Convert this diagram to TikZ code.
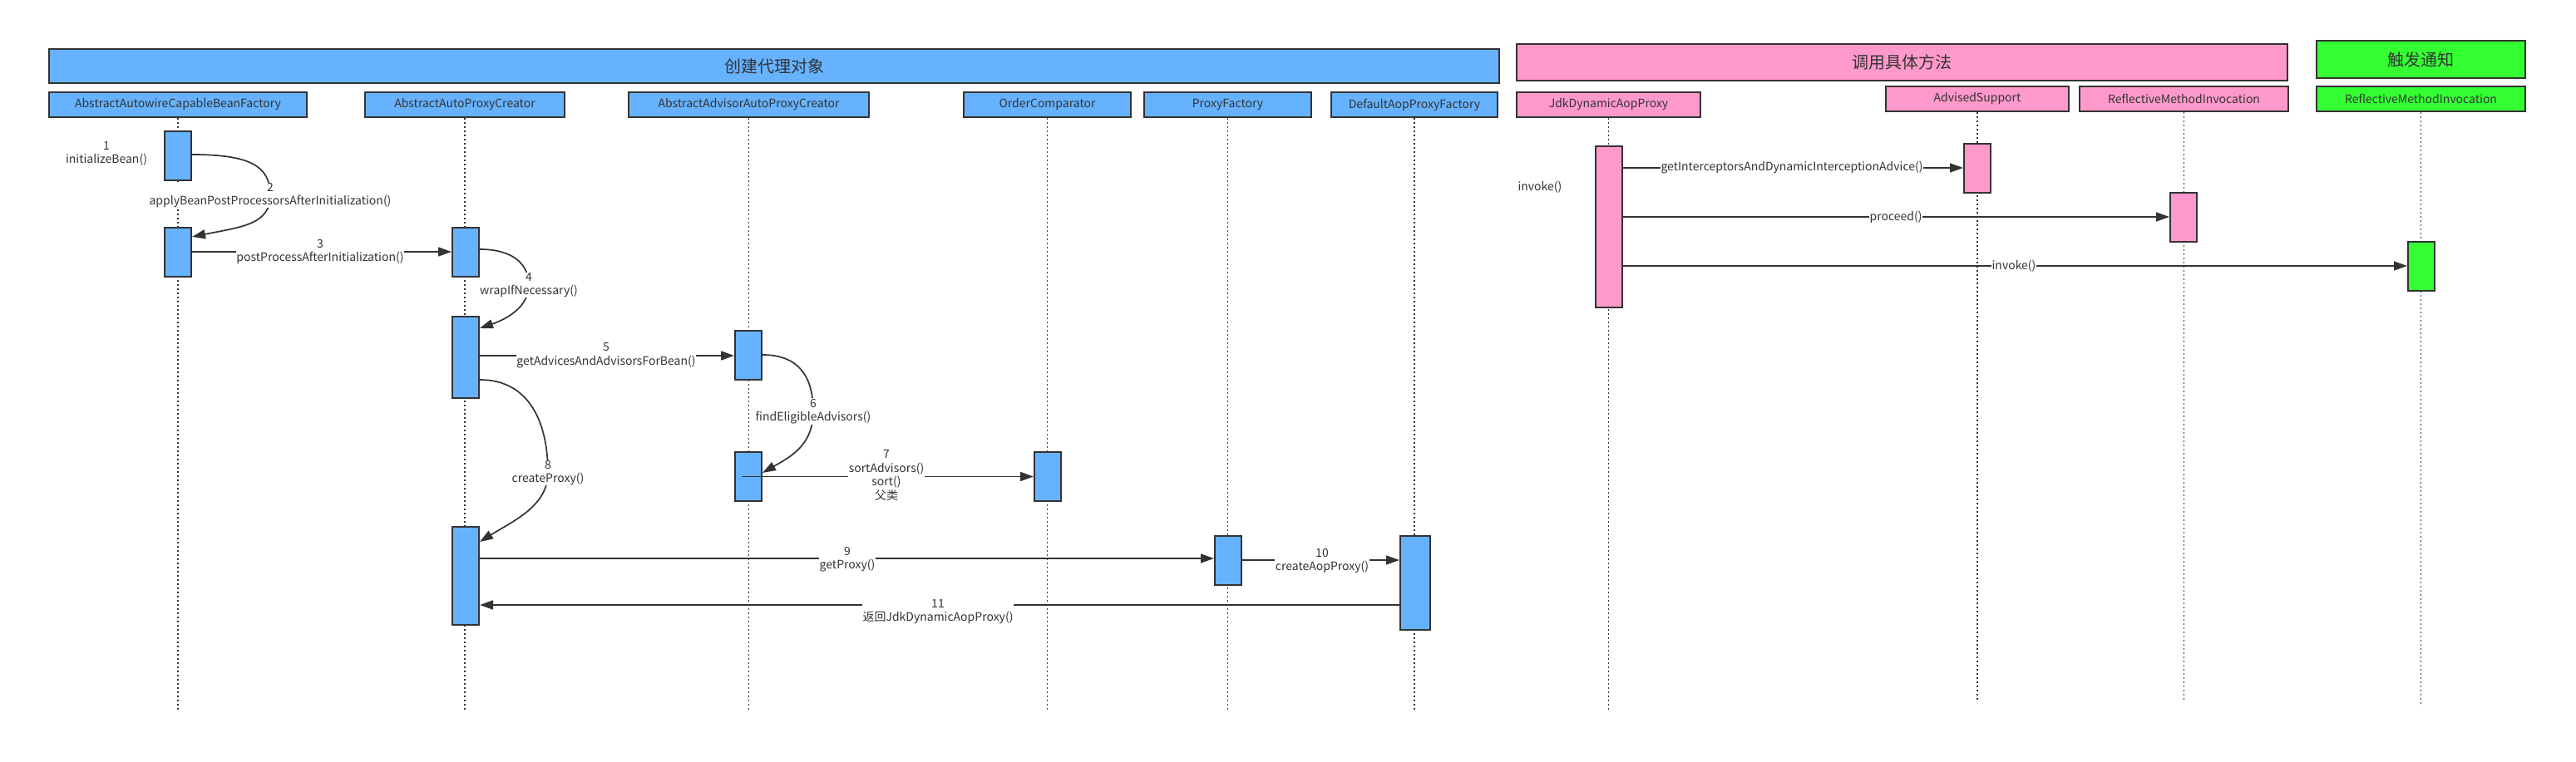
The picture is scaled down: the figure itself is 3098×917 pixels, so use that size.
\documentclass[tikz,border=0pt]{standalone}
\usepackage{fontspec}
\setmainfont{Noto Sans CJK SC}
\usetikzlibrary{arrows.meta}
\definecolor{cblue}{HTML}{66B2FF}
\definecolor{cpink}{HTML}{FF99CC}
\definecolor{cgreen}{HTML}{33FF33}
\definecolor{cline}{HTML}{333333}
\begin{document}
\begin{tikzpicture}[x=1pt,y=-1pt,
  every node/.style={text=cline},
  banner/.style={draw=cline, line width=2pt, inner sep=0pt, anchor=north west, font=\fontsize{20}{24}\selectfont},
  hdr/.style={draw=cline, line width=2pt, inner sep=0pt, anchor=north west, minimum height=30pt, font=\fontsize{14}{17}\selectfont},
  act/.style={draw=cline, line width=2pt, inner sep=0pt, anchor=north west, minimum width=32pt},
  life/.style={draw=cline, line width=1.4pt, dash pattern=on 2pt off 3pt},
  msg/.style={draw=cline, line width=1.7pt, -{Triangle[length=16pt,width=11pt]}},
  lbl/.style={fill=white, inner sep=0.5pt, align=center, font=\fontsize{14}{16.5}\selectfont},
  tlbl/.style={align=center, font=\fontsize{14}{16.5}\selectfont}]
\useasboundingbox (0,0) rectangle (3098,917);
% banners
\node[banner, fill=cblue, minimum width=1744pt, minimum height=41pt] (bn1) at (58,58) {创建代理对象};
\node[banner, fill=cpink, minimum width=927pt, minimum height=44pt] (bn2) at (1823,52) {调用具体方法};
\node[banner, fill=cgreen, minimum width=251pt, minimum height=45pt] (bn3) at (2785,48) {触发通知};
% headers
\node[hdr, fill=cblue, minimum width=310pt] (h1) at (58,110) {AbstractAutowireCapableBeanFactory};
\node[hdr, fill=cblue, minimum width=240pt] (h2) at (438,110) {AbstractAutoProxyCreator};
\node[hdr, fill=cblue, minimum width=289pt] (h3) at (755,110) {AbstractAdvisorAutoProxyCreator};
\node[hdr, fill=cblue, minimum width=201pt] (h4) at (1158,110) {OrderComparator};
\node[hdr, fill=cblue, minimum width=201pt] (h5) at (1375,110) {ProxyFactory};
\node[hdr, fill=cblue, minimum width=200pt] (h6) at (1600,110) {DefaultAopProxyFactory};
\node[hdr, fill=cpink, minimum width=221pt] (h7) at (1823,110) {JdkDynamicAopProxy};
\node[hdr, fill=cpink, minimum width=220pt] (h8) at (2267,103) {AdvisedSupport};
\node[hdr, fill=cpink, minimum width=251pt] (h9) at (2500,103) {ReflectiveMethodInvocation};
\node[hdr, fill=cgreen, minimum width=251pt] (h10) at (2785,103) {ReflectiveMethodInvocation};
% lifeline ends
\coordinate (e1) at (213,855);
\coordinate (e2) at (559,855);
\coordinate (e3) at (899,855);
\coordinate (e4) at (1259,855);
\coordinate (e5) at (1476,855);
\coordinate (e6) at (1701,855);
\coordinate (e7) at (1934,855);
\coordinate (e8) at (2377,845);
\coordinate (e9) at (2625,845);
\coordinate (e10) at (2911,850);
\foreach \i in {1,...,10} {\draw[life] (h\i.south) -- (h\i.south |- e\i);}
% activations
\node[act, fill=cblue, minimum height=59pt] (b1) at (197,157) {};
\node[act, fill=cblue, minimum height=59pt] (b2) at (197,273) {};
\node[act, fill=cblue, minimum height=59pt] (c1) at (543,273) {};
\node[act, fill=cblue, minimum height=98pt] (c2) at (543,380) {};
\node[act, fill=cblue, minimum height=118pt] (c3) at (543,633) {};
\node[act, fill=cblue, minimum height=59pt] (d1) at (883,397) {};
\node[act, fill=cblue, minimum height=59pt] (d2) at (883,543) {};
\node[act, fill=cblue, minimum height=59pt] (o1) at (1243,543) {};
\node[act, fill=cblue, minimum height=59pt] (p1) at (1460,644) {};
\node[act, fill=cblue, minimum height=113pt, minimum width=36pt] (g1) at (1683,644) {};
\node[act, fill=cpink, minimum height=194pt] (j1) at (1918,175) {};
\node[act, fill=cpink, minimum height=59pt] (k1) at (2361,172) {};
\node[act, fill=cpink, minimum height=59pt] (m1) at (2609,231) {};
\node[act, fill=cgreen, minimum height=59pt] (n1) at (2895,290) {};
% message 1
\node[tlbl] (l1) at (128,185) {1\\initializeBean()};
% message 2 (self)
\coordinate (w2) at (325,235);
\draw[msg] (b1.east |- 0,186) .. controls +(70,0) and +(0,-35) .. (w2) .. controls +(0,35) and +(60,-12) .. (b2.east |- 0,285);
\node[lbl] (l2) at (w2) {2\\applyBeanPostProcessorsAfterInitialization()};
% message 3
\draw[msg] (b2.east |- 0,303) -- (c1.west |- 0,303);
\node[lbl] (l3) at (385,303) {3\\postProcessAfterInitialization()};
% message 4
\coordinate (w4) at (636,343);
\draw[msg] (c1.east |- 0,300) .. controls +(40,0) and +(0,-25) .. (w4) .. controls +(0,25) and +(35,-12) .. (c2.east |- 0,395);
\node[lbl] (l4) at (w4) {4\\wrapIfNecessary()};
% message 5
\draw[msg] (c2.east |- 0,428) -- (d1.west |- 0,428);
\node[lbl] (l5) at (729,428) {5\\getAdvicesAndAdvisorsForBean()};
% message 6
\coordinate (w6) at (978,495);
\draw[msg] (d1.east |- 0,427) .. controls +(45,0) and +(0,-40) .. (w6) .. controls +(0,40) and +(35,-20) .. (d2.east |- 0,569);
\node[lbl] (l6) at (w6) {6\\findEligibleAdvisors()};
% message 7
\draw[msg] ([xshift=9pt]d2.west) -- (o1.west);
\node[lbl] (l7) at (1066,572) {7\\sortAdvisors()\\sort()\\父类};
% message 8
\coordinate (w8) at (659,569);
\draw[msg] (c2.east |- 0,457) .. controls +(60,0) and +(0,-60) .. (w8) .. controls +(0,40) and +(40,-25) .. (c3.east |- 0,652);
\node[lbl] (l8) at (w8) {8\\createProxy()};
% message 9
\draw[msg] (c3.east |- 0,672) -- (p1.west |- 0,672);
\node[lbl] (l9) at (1019,673) {9\\getProxy()};
% message 10
\draw[msg] (p1.east |- 0,674) -- (g1.west |- 0,674);
\node[lbl] (l10) at (1590,675) {10\\createAopProxy()};
% message 11
\draw[msg] (g1.west |- 0,728) -- (c3.east |- 0,728);
\node[lbl] (l11) at (1128,736) {11\\返回JdkDynamicAopProxy()};
% right part
\node[tlbl, anchor=west] (li) at (1822,225) {invoke()};
\draw[msg] (j1.east |- 0,202) -- (k1.west |- 0,202);
\node[lbl] (r1) at (2155,202) {getInterceptorsAndDynamicInterceptionAdvice()};
\draw[msg] (j1.east |- 0,261) -- (m1.west |- 0,261);
\node[lbl] (r2) at (2280,261) {proceed()};
\draw[msg] (j1.east |- 0,320) -- (n1.west |- 0,320);
\node[lbl] (r3) at (2422,320) {invoke()};
\end{tikzpicture}
\end{document}
